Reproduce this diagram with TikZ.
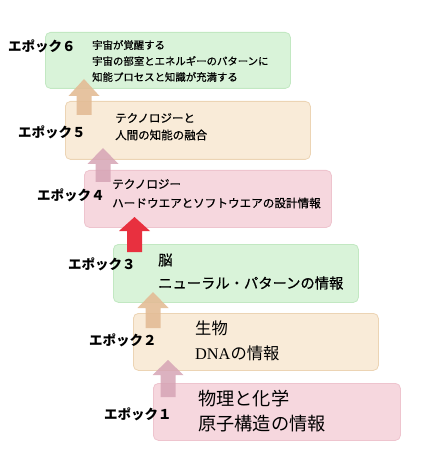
\documentclass[tikz,border=0pt]{standalone}
\usepackage{fontspec}
\setmainfont{Noto Sans CJK JP}
\newfontfamily\serifl{Liberation Serif}
\newfontfamily\medfont[FakeBold=0.6]{Noto Sans CJK JP}
\definecolor{gfill}{HTML}{D9F3D9}
\definecolor{gline}{HTML}{C2E8C2}
\definecolor{tfill}{HTML}{F9EBD8}
\definecolor{tline}{HTML}{ECD4B4}
\definecolor{pfill}{HTML}{F6D7DE}
\definecolor{pline}{HTML}{EEC4CE}
\definecolor{tarrow}{HTML}{E3BC96}
\definecolor{parrow}{HTML}{D6A4B5}
\definecolor{rarrow}{HTML}{E8303F}
\tikzset{
  epbox/.style={draw, line width=0.8pt, rounded corners=5pt, anchor=north west, inner sep=0pt},
  eplabel/.style={anchor=west, inner sep=0pt, font=\bfseries\fontsize{13.5}{15}\selectfont},
  eptext/.style={anchor=west, inner sep=0pt},
}
\newcommand{\blkarrow}[5]{% cx, tip, headbase, bottom, color
  \fill[#5] (#1-7.5,#4) -- (#1-7.5,#3) -- (#1-15.5,#3) -- (#1,#2) -- (#1+15.5,#3) -- (#1+7.5,#3) -- (#1+7.5,#4) -- cycle;}
\begin{document}
\begin{tikzpicture}[x=1pt,y=-1pt]
\useasboundingbox (0,0) rectangle (431,470);
% boxes
\node[epbox, fill=gfill, draw=gline, minimum width=245pt, minimum height=56pt] (b6) at (45,32) {};
\node[epbox, fill=tfill, draw=tline, minimum width=245pt, minimum height=58pt] (b5) at (65,101) {};
\node[epbox, fill=pfill, draw=pline, minimum width=247pt, minimum height=57pt] (b4) at (84,170) {};
\node[epbox, fill=gfill, draw=gline, minimum width=245pt, minimum height=58pt] (b3) at (113,244) {};
\node[epbox, fill=tfill, draw=tline, minimum width=245pt, minimum height=57pt] (b2) at (133,313) {};
\node[epbox, fill=pfill, draw=pline, minimum width=247pt, minimum height=57pt] (b1) at (153,383) {};
% arrows
\blkarrow{84}{79}{96}{115}{tarrow, opacity=0.9}
\blkarrow{103}{148}{164}{182}{parrow, opacity=0.85}
\blkarrow{134.5}{217}{231}{252}{rarrow}
\blkarrow{153}{292}{308}{328}{tarrow, opacity=0.9}
\blkarrow{168}{360}{375}{397}{parrow, opacity=0.85}
% labels
\node[eplabel] (l6) at (8,46) {エポック６};
\node[eplabel] (l5) at (18,132) {エポック５};
\node[eplabel] (l4) at (37,195) {エポック４};
\node[eplabel] (l3) at (68,264) {エポック３};
\node[eplabel] (l2) at (89,340) {エポック２};
\node[eplabel] (l1) at (104,414) {エポック１};
% texts
\begin{scope}[every node/.append style={eptext}]
\node[font=\medfont\fontsize{10.4}{12}\selectfont] (t6a) at (92,45) {宇宙が覚醒する};
\node[font=\medfont\fontsize{10.4}{12}\selectfont] (t6b) at (92,61) {宇宙の部室とエネルギーのパターンに};
\node[font=\medfont\fontsize{10.4}{12}\selectfont] (t6c) at (92,77) {知能プロセスと知識が充満する};
\node[font=\medfont\fontsize{11.5}{13}\selectfont] (t5a) at (115,118) {テクノロジーと};
\node[font=\medfont\fontsize{11.5}{13}\selectfont] (t5b) at (115,135) {人間の知能の融合};
\node[font=\medfont\fontsize{11.6}{13}\selectfont] (t4a) at (112,184) {テクノロジー};
\node[font=\medfont\fontsize{11.6}{13}\selectfont] (t4b) at (112,203) {ハードウエアとソフトウエアの設計情報};
\node[font=\medfont\fontsize{14.3}{16}\selectfont] (t3a) at (158,260) {脳};
\node[font=\medfont\fontsize{14.3}{16}\selectfont] (t3b) at (158,283) {ニューラル・パターンの情報};
\node[font=\fontsize{16.3}{18}\selectfont] (t2a) at (195,328) {生物};
\node[font=\fontsize{16.3}{18}\selectfont] (t2b) at (195,353) {{\serifl DNA}の情報};
\node[font=\fontsize{18.2}{20}\selectfont] (t1a) at (198,399) {物理と化学};
\node[font=\fontsize{18.2}{20}\selectfont] (t1b) at (198,424) {原子構造の情報};
\end{scope}
\end{tikzpicture}
\end{document}
